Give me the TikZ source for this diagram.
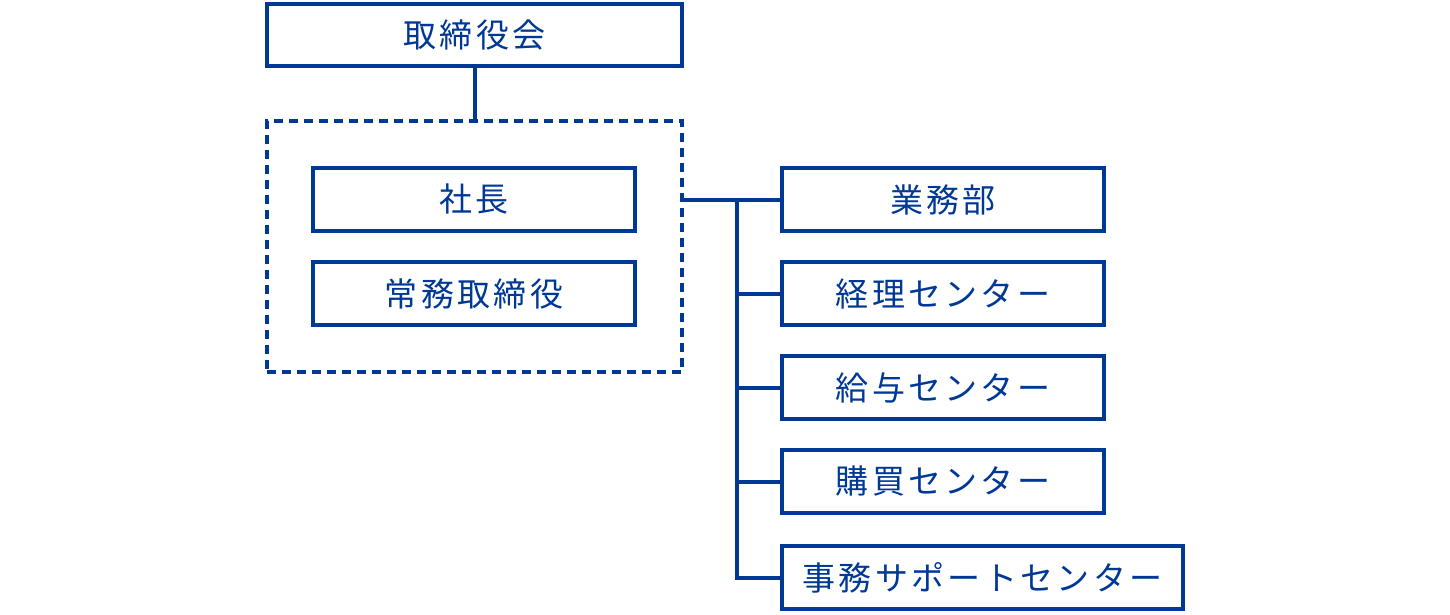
\documentclass[tikz,border=0pt]{standalone}
\usepackage{fontspec}
\newfontfamily\jp[LetterSpace=10]{Noto Sans CJK JP}
\definecolor{orgblue}{RGB}{0,56,150}
\begin{document}
\begin{tikzpicture}[x=1pt,y=-1pt,
  box/.style={draw=orgblue,line width=4pt,inner sep=0pt,minimum width=322pt,minimum height=63pt,
    font=\jp\fontsize{33}{39}\selectfont,text=orgblue},
  conn/.style={draw=orgblue,line width=4pt}]
\useasboundingbox (0,0) rectangle (1450,614);
\node[box,minimum width=415pt,minimum height=62pt] (board) at (474.5,35) {取締役会};
\node[draw=orgblue,line width=4pt,dash pattern=on 9pt off 6pt,minimum width=415pt,minimum height=251pt,inner sep=0pt] (exec) at (474.5,246.5) {};
\node[box] (pres) at (474,199.5) {社長};
\node[box] (jomu) at (474,293.5) {常務取締役};
\node[box] (gyomu) at (943,199.5) {業務部};
\node[box] (keiri) at (943,293.5) {経理センター};
\node[box] (kyuyo) at (943,387.5) {給与センター};
\node[box] (kobai) at (943,481.5) {購買センター};
\node[box,minimum width=401pt] (jimu) at (982.5,577.5) {事務サポートセンター};
\draw[conn] (board.south) -- (exec.north);
\draw[conn] (exec.east |- gyomu.west) -- (gyomu.west);
\coordinate (bus) at (737,199.5);
\draw[conn] (bus) |- (keiri.west);
\draw[conn] (bus) |- (kyuyo.west);
\draw[conn] (bus) |- (kobai.west);
\draw[conn,line join=miter] (bus) |- (jimu.west);
\end{tikzpicture}
\end{document}
